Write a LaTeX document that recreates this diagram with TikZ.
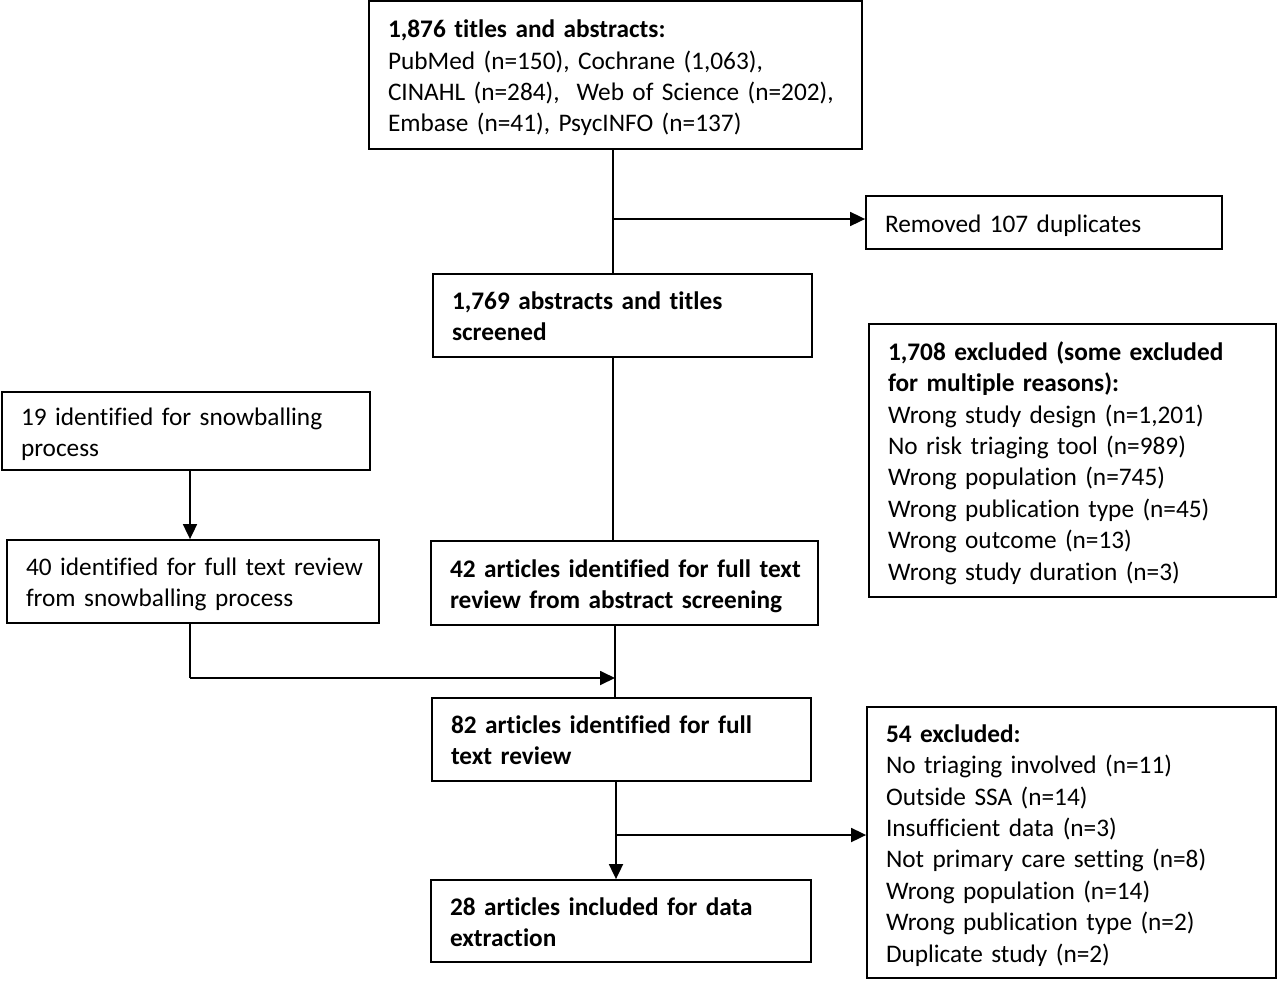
\documentclass[tikz,border=0pt]{standalone}
\usepackage{fontspec}
\setmainfont{Carlito}[Ligatures=CommonOff]
\usetikzlibrary{arrows.meta,calc}
\begin{document}
\begin{tikzpicture}[x=1pt,y=-1pt,
  box/.style={draw,line width=1.8pt,inner xsep=19pt,inner ysep=0pt,
    font=\fontsize{25.3}{31.4}\selectfont},
  conn/.style={line width=1.8pt},
  arr/.style={line width=1.8pt,-{Triangle[length=15pt,width=14pt]}}]
\useasboundingbox (0,0) rectangle (1280,983);
\fill[white] (0,0) rectangle (1280,983);
\newcommand{\bx}[6]{\node[box,minimum width=#3pt,minimum height=#4pt,text width=#3pt-38pt] (#1) at (#5,#6) {\raisebox{-3.5pt}[\height][\depth]{\begin{tabular}{@{}l@{}}#2\end{tabular}}};}
\bx{top}{\textbf{1,876 titles and abstracts:}\\PubMed (n=150), Cochrane (1,063),\\CINAHL (n=284),\ \ Web of Science (n=202),\\Embase (n=41), PsycINFO (n=137)}{493}{148}{615.5}{75}
\bx{rem}{Removed 107 duplicates}{356}{53}{1044}{222.5}
\bx{s1769}{\textbf{1,769 abstracts and titles}\\\textbf{screened}}{379}{83}{622.5}{315.5}
\bx{ex1708}{\textbf{1,708 excluded (some excluded}\\\textbf{for multiple reasons):}\\Wrong study design (n=1,201)\\No risk triaging tool (n=989)\\Wrong population (n=745)\\Wrong publication type (n=45)\\Wrong outcome (n=13)\\Wrong study duration (n=3)}{407}{273}{1072.5}{460.5}
\bx{s19}{19 identified for snowballing\\process}{368}{78}{186}{431}
\bx{s40}{40 identified for full text review\\from snowballing process}{372}{83}{193}{581.5}
\bx{s42}{\textbf{42 articles identified for full text}\\\textbf{review from abstract screening}}{387}{84}{624.5}{583}
\bx{s82}{\textbf{82 articles identified for full}\\\textbf{text review}}{379}{83}{621.5}{739.5}
\bx{s28}{\textbf{28 articles included for data}\\\textbf{extraction}}{380}{82}{621}{921}
\bx{ex54}{\textbf{54 excluded:}\\No triaging involved (n=11)\\Outside SSA (n=14)\\Insufficient data (n=3)\\Not primary care setting (n=8)\\Wrong population (n=14)\\Wrong publication type (n=2)\\Duplicate study (n=2)}{409}{271}{1071.5}{842.5}
% main spine
\coordinate (m1) at (613,219);
\draw[conn] (top.south -| m1) -- (s1769.north -| m1);
\draw[arr] (m1) -- (rem.west |- m1);
\draw[conn] (s1769.south -| m1) -- (s42.north -| m1);
\coordinate (m2) at (615,678);
\draw[conn] (s42.south -| m2) -- (s82.north -| m2);
% snowballing
\coordinate (l1) at (190,0);
\draw[arr] (s19.south -| l1) -- (s40.north -| l1);
\coordinate (l2) at (190,678);
\draw[conn] (s40.south -| l1) -- (l2);
\draw[arr] (l2) -- (m2);
% bottom
\coordinate (m3) at (616,835);
\draw[arr] (s82.south -| m3) -- (s28.north -| m3);
\draw[arr] (m3) -- (ex54.west |- m3);
\end{tikzpicture}
\end{document}
